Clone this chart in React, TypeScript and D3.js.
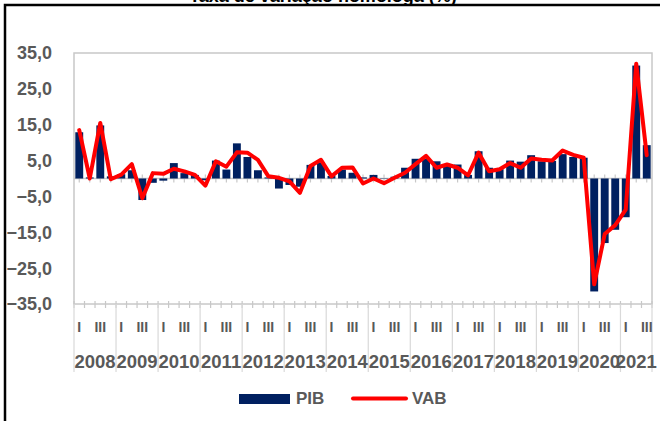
import * as d3 from "d3";

const years = ["2008", "2009", "2010", "2011", "2012", "2013", "2014", "2015", "2016", "2017", "2018", "2019", "2020", "2021"];
const quarterLabels = ["I", "II", "III", "IV"];
const yTicks = [35, 25, 15, 5, -5, -15, -25, -35];

// PIB, taxa de variação homóloga (%), 2008 T1 .. 2021 T3
const pib = [
  12.9, 0.3, 14.8, 0.6,
  1.2, 2.3, -6.0, -1.2,
  -0.6, 4.3, 1.5, 1.0,
  -0.5, 5.0, 2.5, 9.8,
  6.0, 2.3, 0.3, -2.8,
  -1.8, -2.3, 3.8, 4.5,
  0.7, 2.5, 1.6, 0.3,
  1.0, 0.1, 0.5, 3.0,
  5.5, 5.5, 4.8, 3.5,
  3.9, 1.0, 7.6, 3.0,
  2.6, 5.0, 4.7, 6.5,
  4.8, 4.9, 6.8, 6.0,
  5.8, -31.5, -18.0, -14.3,
  -10.8, 31.5, 9.3,
];
const vab = [
  13.5, 0.0, 15.5, -0.2,
  1.1, 4.0, -5.5, 1.5,
  1.3, 2.7, 2.0, 1.0,
  -2.0, 4.8, 3.3, 7.3,
  7.2, 5.2, 0.6, 0.2,
  -0.8, -4.0, 3.5, 5.2,
  0.6, 3.0, 3.1, -1.4,
  0.0, -1.3, 0.2, 1.6,
  4.0, 6.3, 3.0, 3.9,
  3.0, 0.9, 7.2, 2.0,
  2.6, 4.3, 3.0, 5.6,
  5.2, 5.0, 7.8, 6.6,
  5.8, -29.5, -15.5, -13.0,
  -8.7, 32.0, 6.5,
];

const width = 660;
const height = 421;
const left = 74;
const right = 652;
const top = 53;
const bottom = 304;
const font = "'Liberation Sans', Arial, sans-serif";
const textColor = "#595959";
const gridColor = "#c8c8c8";
const navy = "#002060";

export default function App() {
  const idx = d3.range(pib.length);
  const x = d3.scaleBand<number>().domain(idx).range([left, right]).paddingInner(0.25).paddingOuter(0.125);
  const step = x.step();
  const cx = (i: number) => (x(i) as number) + x.bandwidth() / 2;
  const y = d3.scaleLinear([-35, 35], [bottom, top]);
  const line = d3.line<number>((_, i) => cx(i), (d) => y(d));
  const qLeft = (i: number) => left + step * i;

  const yearSpans = years.map((yr, k) => {
    const start = k * 4;
    const end = Math.min(start + 4, pib.length);
    return { yr, x0: qLeft(start), x1: qLeft(end) };
  });

  return (
    <div style={{ position: "absolute", left: 0, top: 0 }}>
      <svg width={width} height={height} style={{ display: "block", fontFamily: font }}>
        <rect width={width} height={height} fill="#fff" />
        <text x={323} y={2} textAnchor="middle" fontSize={18} fontWeight="bold" fill="#000">
          Taxa de variação homóloga (%)
        </text>
        <path d={`M5,${height} V5 H${width}`} fill="none" stroke="#000" strokeWidth={2.5} />

        {/* plot area frame */}
        <rect x={left} y={top} width={right - left} height={bottom - top} fill="none" stroke={gridColor} strokeWidth={1.5} />

        {/* y labels */}
        {yTicks.map((t) => (
          <text key={t} x={52} y={y(t)} dy="0.36em" textAnchor="end" fontSize={18} fontWeight="bold" fill={textColor}>
            {d3.format(".1f")(t).replace(".", ",")}
          </text>
        ))}

        {/* zero line with ticks */}
        <line x1={left} x2={right} y1={y(0)} y2={y(0)} stroke={gridColor} strokeWidth={1.5} />
        {idx.map((i) => (
          <line key={i} x1={cx(i)} x2={cx(i)} y1={y(0) - 4} y2={y(0) + 4} stroke={gridColor} strokeWidth={1.2} />
        ))}

        {/* bottom category axis */}
        {d3.range(pib.length + 1).map((k) => (
          <line key={k} x1={qLeft(k)} x2={qLeft(k)} y1={bottom - 3} y2={bottom + 4} stroke={gridColor} strokeWidth={1.2} />
        ))}
        {yearSpans.map((s) => (
          <line key={s.yr} x1={s.x0} x2={s.x0} y1={bottom} y2={372} stroke="#d9d9d9" strokeWidth={1.2} />
        ))}
        <line x1={right} x2={right} y1={bottom} y2={372} stroke="#d9d9d9" strokeWidth={1.2} />

        {idx.map((i) =>
          i % 2 === 0 ? (
            <text key={i} x={cx(i)} y={332} textAnchor="middle" fontSize={14} fontWeight="bold" fill={textColor}>
              {quarterLabels[i % 4]}
            </text>
          ) : null
        )}
        {yearSpans.map((s) => (
          <text key={s.yr} x={(s.x0 + s.x1) / 2} y={368} textAnchor="middle" fontSize={18.5} fontWeight="bold" fill={textColor}>
            {s.yr}
          </text>
        ))}

        {/* bars */}
        {pib.map((v, i) => (
          <rect
            key={i}
            x={x(i)}
            width={x.bandwidth()}
            y={Math.min(y(v), y(0))}
            height={Math.abs(y(v) - y(0))}
            fill={navy}
          />
        ))}

        {/* VAB line */}
        <path d={line(vab) ?? ""} fill="none" stroke="#ff0000" strokeWidth={4} strokeLinejoin="round" strokeLinecap="round" />

        {/* legend */}
        <rect x={239} y={394} width={51} height={10} fill={navy} />
        <text x={296} y={404} fontSize={17} fontWeight="bold" fill={textColor}>PIB</text>
        <line x1={353} x2={406} y1={398.5} y2={398.5} stroke="#ff0000" strokeWidth={4} strokeLinecap="round" />
        <text x={412} y={404} fontSize={17} fontWeight="bold" fill={textColor}>VAB</text>
      </svg>
    </div>
  );
}
